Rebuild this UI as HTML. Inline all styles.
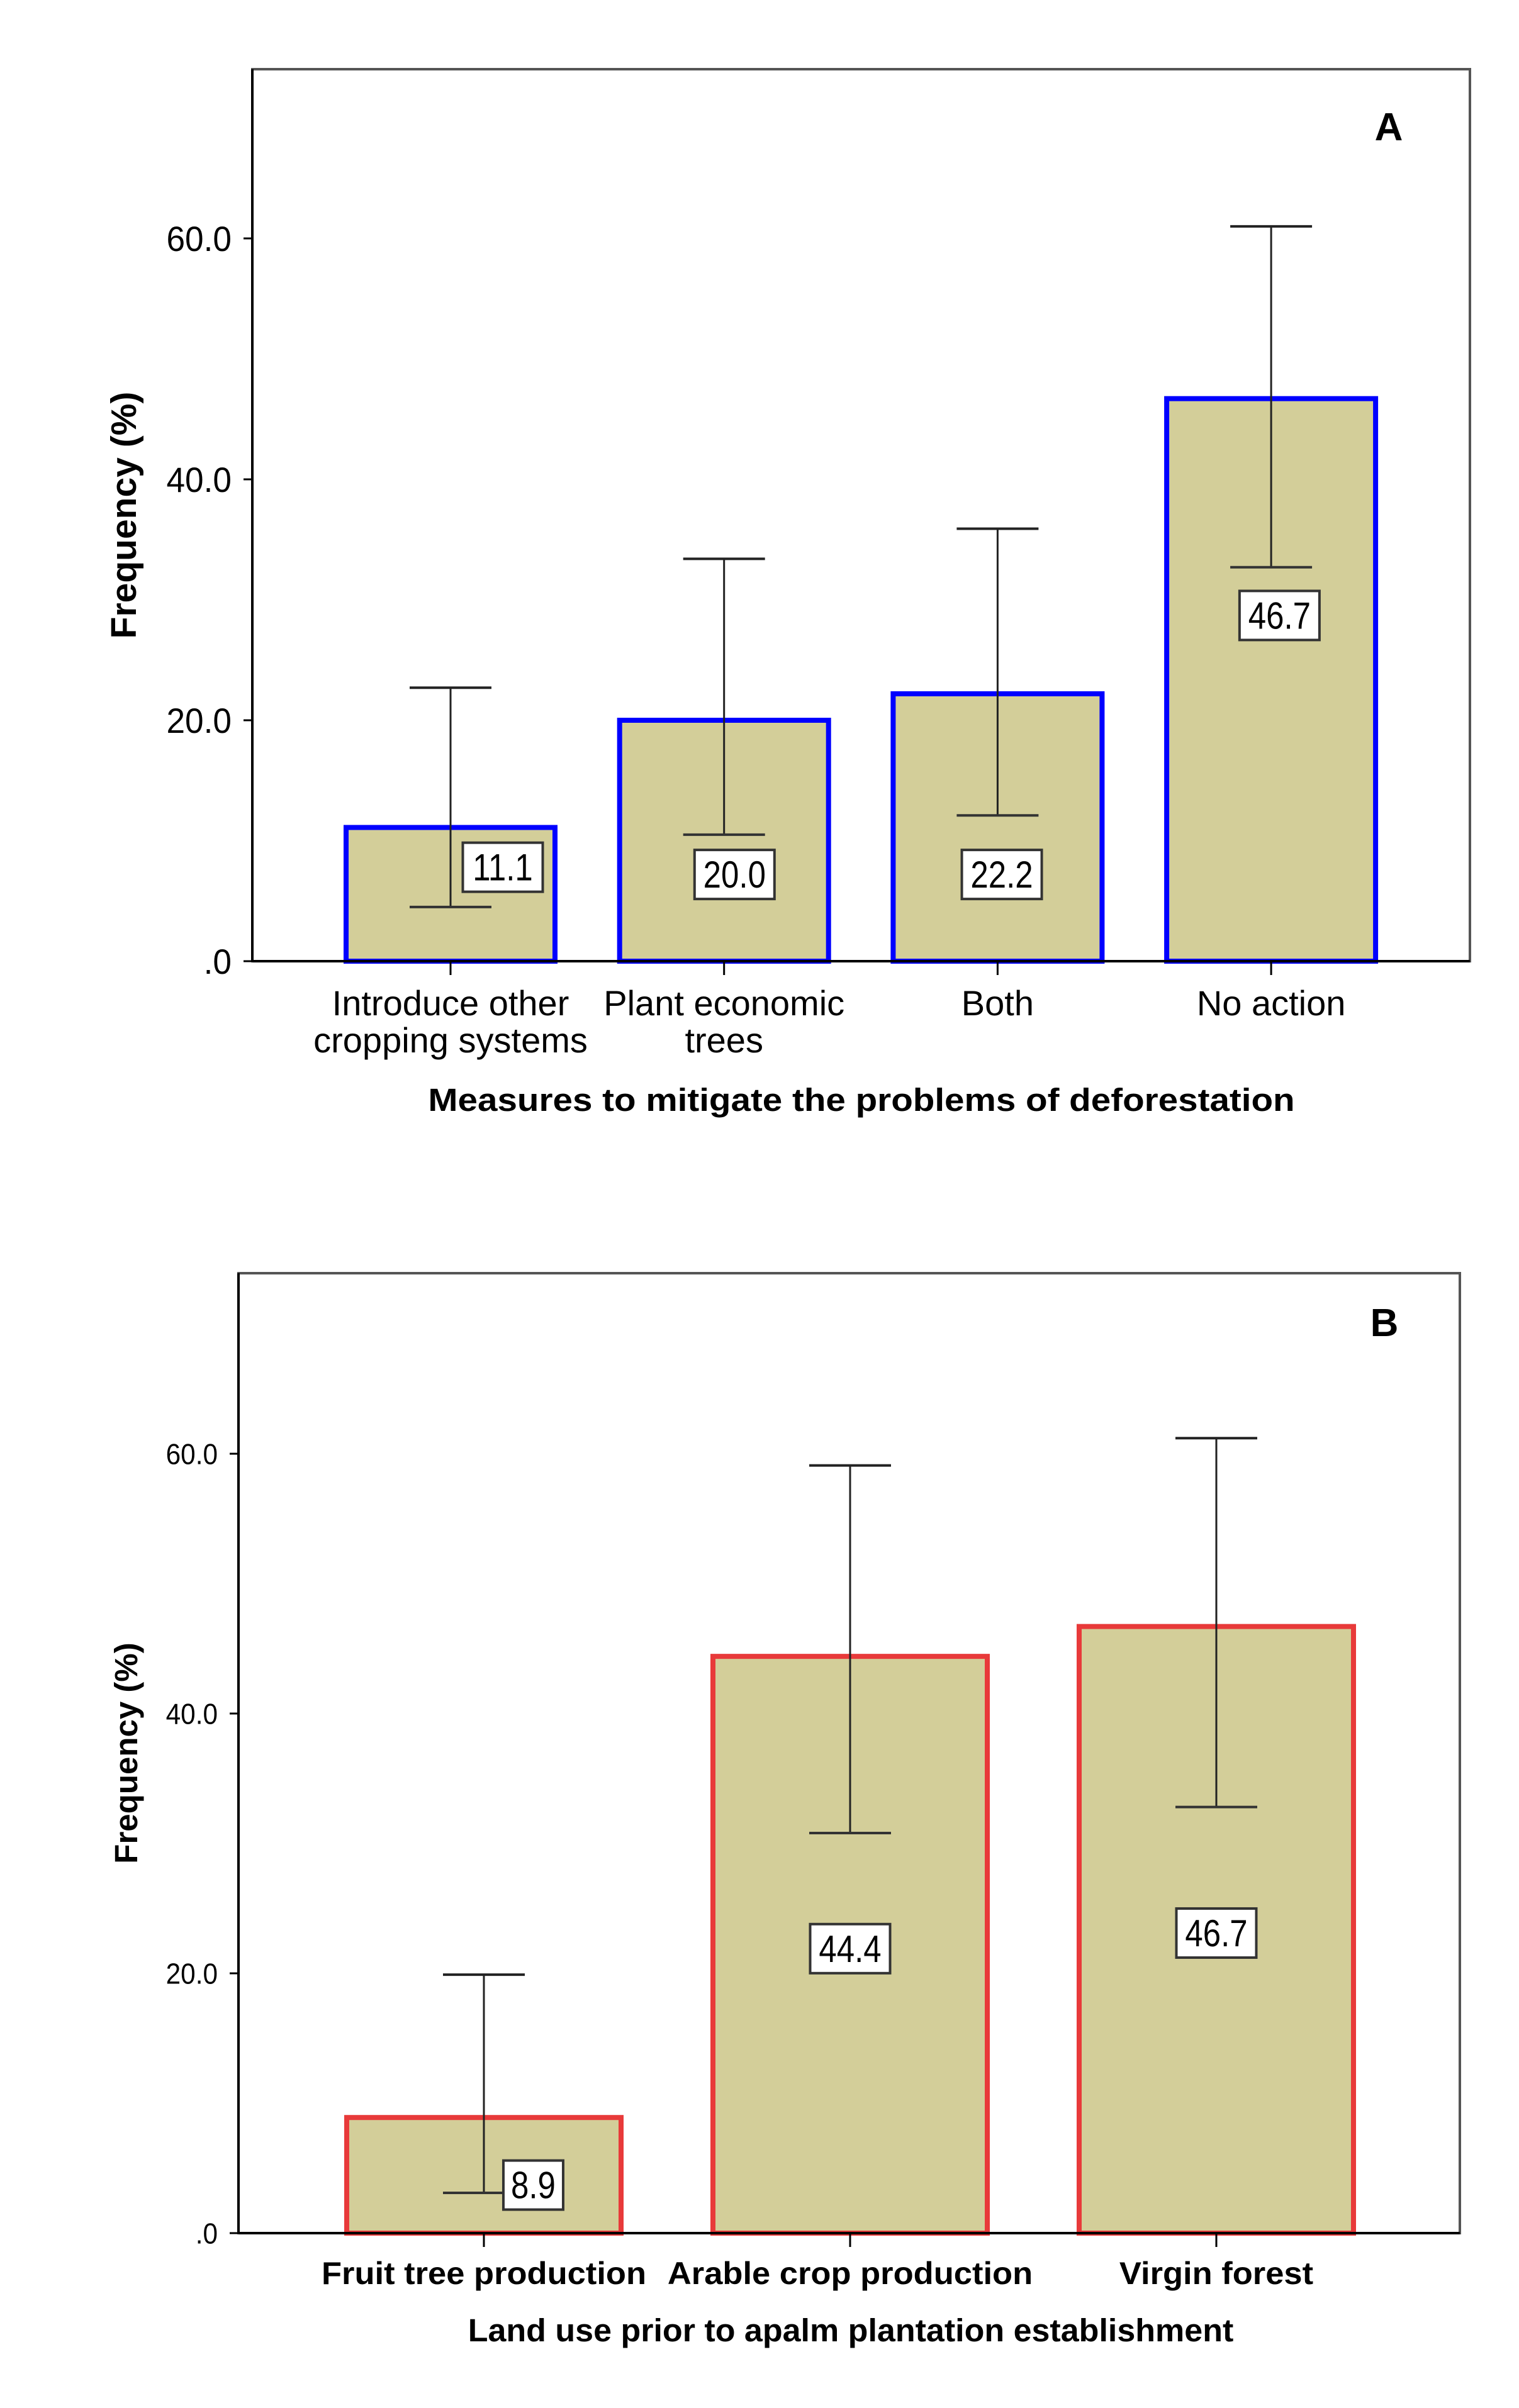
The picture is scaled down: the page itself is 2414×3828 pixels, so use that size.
<!DOCTYPE html>
<html><head><meta charset="utf-8">
<style>
html,body{margin:0;padding:0;background:#fff;}
svg{display:block;font-family:"Liberation Sans",sans-serif;}
</style></head>
<body>
<svg id="fig" width="2414" height="3828" viewBox="0 0 2414 3828" xmlns="http://www.w3.org/2000/svg"></svg>
<script>
// Chart A data
const catsA = [["Introduce other","cropping systems"],["Plant economic","trees"],["Both"],["No action"]];
const valsA = [11.1, 20.0, 22.2, 46.7];
const errLowA = [4.5, 10.5, 12.1, 32.7];
const errHighA = [22.7, 33.4, 35.9, 61.0];
const labelAtA = [7.8, 7.2, 7.2, 28.7];
const labelShiftA = [0.25, 0.05, 0.02, 0.04];
const ticksA = [0, 20, 40, 60];
const tickLabelsA = [".0", "20.0", "40.0", "60.0"];
// Chart B data
const catsB = [["Fruit tree production"],["Arable crop production"],["Virgin forest"]];
const valsB = [8.9, 44.4, 46.7];
const errLowB = [3.1, 30.8, 32.8];
const errHighB = [19.9, 59.1, 61.2];
const labelAtB = [3.7, 21.9, 23.1];
const labelShiftB = [0.18, 0.0, 0.0];
const ticksB = [0, 20, 40, 60];
const tickLabelsB = [".0", "20.0", "40.0", "60.0"];

const NS = "http://www.w3.org/2000/svg";
const svg = document.getElementById("fig");
function mk(tag, attrs, parent){
  const e = document.createElementNS(NS, tag);
  for (const k in attrs) e.setAttribute(k, attrs[k]);
  (parent||svg).appendChild(e);
  return e;
}
function txt(parent, x, y, s, size, weight, anchor, sx, rot){
  const t = mk("text", {"font-size":size, "font-weight":weight, "text-anchor":anchor, fill:"#000",
    transform:"translate("+x+","+y+")"+(rot?" rotate("+rot+")":"")+" scale("+sx+",1)"}, parent);
  t.textContent = s;
  return t;
}

function drawChart(cfg){
  const g = mk("g", {});
  
  
  const {L,R,T,B,vmax} = cfg;
  const y = v => B - (B - T) * v / vmax;
  const x = i => cfg.firstCenter + i * cfg.spacing;
  const frame = mk("rect", {x:L, y:T, width:R-L, height:B-T, fill:"none", stroke:"#555", "stroke-width":4}, g);
  
  
  cfg.ticks.forEach((t,i)=>{
    const tk = mk("line", {x1:L-14, x2:L, y1:y(t), y2:y(t), stroke:"#000", "stroke-width":3}, g);
    
    
    const tl = txt(g, L-33, y(t)+cfg.tickSize*0.36, cfg.tickLabels[i], cfg.tickSize, "normal", "end", cfg.tickSx);
    
    
  });
  cfg.vals.forEach((v,i)=>{
    const cx = x(i), w = cfg.barW;
    const bar = mk("rect", {x:cx-w/2, y:y(v), width:w, height:B-y(v), fill:"#d3ce99", stroke:cfg.stroke, "stroke-width":8}, g);
    
    
    const hw = 65;
    const e1 = mk("line", {x1:cx, x2:cx, y1:y(cfg.hi[i]), y2:y(cfg.lo[i]), stroke:"#222", "stroke-width":3}, g);
    
    
    const e2 = mk("line", {x1:cx-hw, x2:cx+hw, y1:y(cfg.hi[i]), y2:y(cfg.hi[i]), stroke:"#222", "stroke-width":4}, g);
    
    
    const e3 = mk("line", {x1:cx-hw, x2:cx+hw, y1:y(cfg.lo[i]), y2:y(cfg.lo[i]), stroke:"#333", "stroke-width":4}, g);
    
    
    const lx = cx + cfg.labelShift[i]*w, ly = y(cfg.labelAt[i]);
    const bw = String(v.toFixed(1)).length > 3 ? 127 : 95;
    const box = mk("rect", {x:lx-bw/2, y:ly-39, width:bw, height:78, fill:"#fff", stroke:"#333", "stroke-width":4}, g);
    
    
    const vt = txt(g, lx, ly+21, v.toFixed(1), 60, "normal", "middle", 0.85);
    
    
    const xt = mk("line", {x1:cx, x2:cx, y1:B, y2:B+22, stroke:"#000", "stroke-width":3}, g);
    
    
    cfg.cats[i].forEach((s,j)=>{
      const c = txt(g, cx, cfg.catY + j*cfg.catLine, s, cfg.catSize, cfg.catWeight, "middle", cfg.catSx);
      
      
    });
  });
  const ax = mk("line", {x1:L, x2:R, y1:B, y2:B, stroke:"#000", "stroke-width":4}, g);
  
  
  const ay = mk("line", {x1:L, x2:L, y1:T, y2:B, stroke:"#000", "stroke-width":4}, g);
  
  
  const xt = txt(g, cfg.xTitleX, cfg.xTitleY, cfg.xTitle, 51, "bold", "middle", cfg.xTitleSx);
  
  
  const yt = txt(g, cfg.yTitleX, cfg.yTitleY, "Frequency (%)", cfg.yTitleSize, "bold", "middle", 1, -90);
  
  
  const pl = txt(g, cfg.panelX, cfg.panelY, cfg.panel, 62, "bold", "middle", 1);
  
  
}

drawChart({name:"chart-a", L:401, R:2336, T:110, B:1528, vmax:(1528-110)/((1528-379)/60),
  vals:valsA, lo:errLowA, hi:errHighA, labelAt:labelAtA, labelShift:labelShiftA,
  ticks:ticksA, tickLabels:tickLabelsA, tickSize:56, tickSx:0.95, cats:catsA,
  firstCenter:716, spacing:434.7, barW:332, stroke:"#0000ff",
  catY:1614, catLine:59, catSize:56, catWeight:"normal", catSx:1.0,
  xTitle:"Measures to mitigate the problems of deforestation", xTitleX:1369, xTitleY:1766, xTitleSx:1.11,
  yTitleX:216, yTitleY:819, yTitleSize:57, panel:"A", panelX:2207, panelY:223});

drawChart({name:"chart-b", L:379, R:2320, T:2024, B:3550, vmax:(3550-2024)/((3550-2311)/60),
  vals:valsB, lo:errLowB, hi:errHighB, labelAt:labelAtB, labelShift:labelShiftB,
  ticks:ticksB, tickLabels:tickLabelsB, tickSize:46, tickSx:0.92, cats:catsB,
  firstCenter:769, spacing:582, barW:436, stroke:"#e83a3a",
  catY:3631, catLine:0, catSize:50, catWeight:"bold", catSx:1.05,
  xTitle:"Land use prior to apalm plantation establishment", xTitleX:1352, xTitleY:3722, xTitleSx:1.02,
  yTitleX:218, yTitleY:2787, yTitleSize:51, panel:"B", panelX:2200, panelY:2124});
</script>
</body></html>
